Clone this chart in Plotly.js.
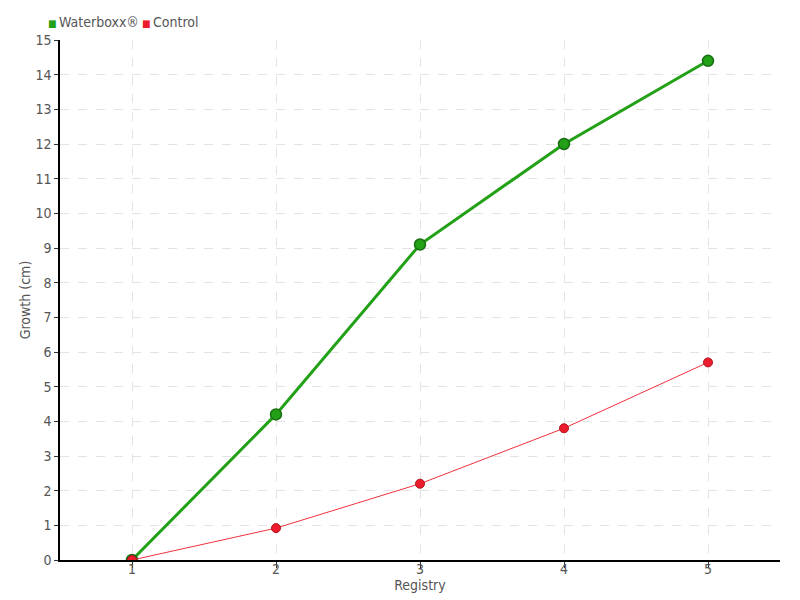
<!DOCTYPE html>
<html><head><meta charset="utf-8">
<script src="https://cdn.plot.ly/plotly-3.0.1.min.js"></script>
<style>body{margin:0;padding:0;}#chart{width:800px;height:600px;}</style>
</head><body><div id="chart"></div>
<script>
const registry = [1, 2, 3, 4, 5];
const waterboxx = [0, 4.2, 9.1, 12.0, 14.4];
const control = [0, 0.92, 2.2, 3.8, 5.7];
const seriesNames = ["Waterboxx®", "Control"];
const colors = ["#22a016", "#ec1c2c"];

const fnt = {family: "DejaVu Sans Condensed", size: 14, color: "#555555"};

const traces = [
  {x: registry, y: waterboxx, name: seriesNames[0], mode: "lines+markers", type: "scatter",
   line: {color: colors[0], width: 3},
   marker: {color: colors[0], size: 11, symbol: "circle", line: {color: "#1a6e14", width: 1.5}}},
  {x: registry, y: control, name: seriesNames[1], mode: "lines+markers", type: "scatter",
   line: {color: "#f0323c", width: 1},
   marker: {color: colors[1], size: 9, symbol: "circle", line: {color: "#b0101e", width: 1}}}
];

const legendAnn = seriesNames.map((n, i) => ({
  xref: "paper", yref: "paper", x: i === 0 ? -0.02 : 0.111, y: 1.035,
  xanchor: "left", yanchor: "middle", showarrow: false,
  text: "<span style='color:" + colors[i] + ";font-size:10px'>■</span>\u2009" + n,
  font: fnt
}));

const layout = {
  width: 800, height: 600,
  margin: {l: 60, r: 20, t: 40, b: 40},
  paper_bgcolor: "#ffffff", plot_bgcolor: "#ffffff",
  font: fnt,
  showlegend: false,
  annotations: legendAnn,
  xaxis: {
    range: [0.5, 5.5], tickvals: registry, ticktext: registry.map(String),
    showline: true, linecolor: "#000", linewidth: 1.5, zeroline: false,
    showgrid: true, gridcolor: "#e3e3e3", griddash: "dash", gridwidth: 1,
    ticks: "outside", ticklen: 6, tickcolor: "#333", tickfont: fnt, ticklabelstandoff: -11,
    title: {text: "Registry", font: fnt, standoff: 0}
  },
  yaxis: {
    range: [0, 15], dtick: 1, tick0: 0,
    showline: true, linecolor: "#000", linewidth: 1.5, zeroline: false,
    showgrid: true, gridcolor: "#e3e3e3", griddash: "dash", gridwidth: 1,
    ticks: "outside", ticklen: 4, tickcolor: "#333", tickfont: fnt,
    title: {text: "Growth (cm)", font: fnt, standoff: 2}
  }
};
Plotly.newPlot("chart", traces, layout, {displayModeBar: false});
</script></body></html>
